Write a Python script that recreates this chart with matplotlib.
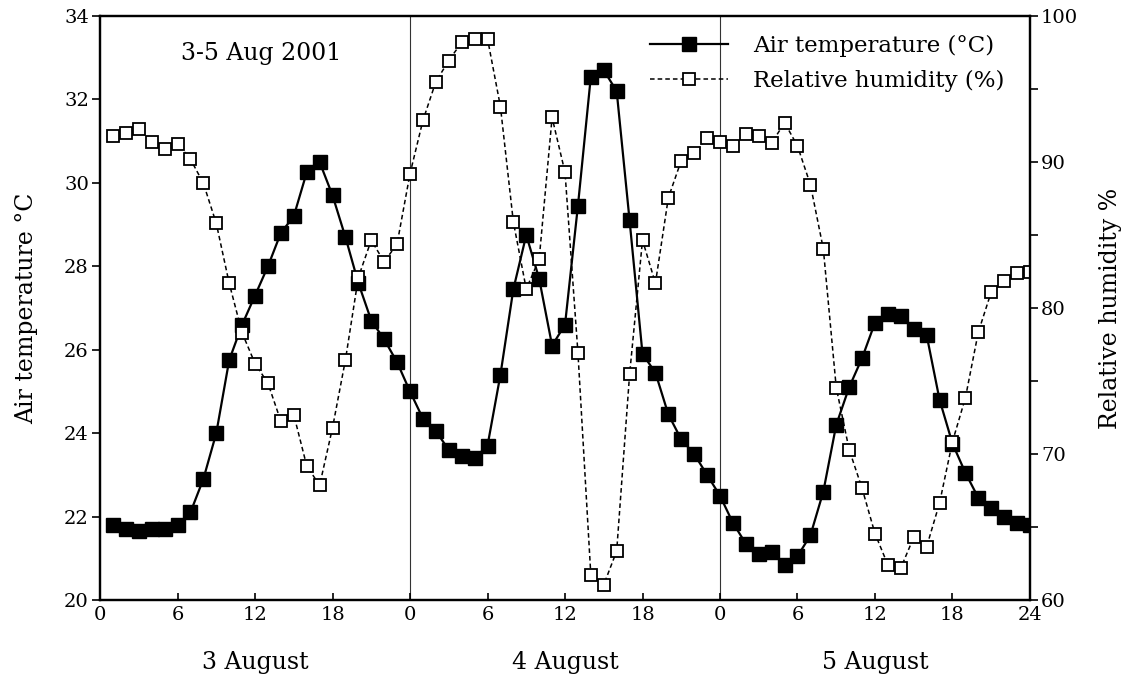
import matplotlib.pyplot as plt
from matplotlib.ticker import MultipleLocator

# hourly readings, 3-5 Aug 2001 (hour 1 .. 72)
hours = list(range(1, 73))

air_temp = [21.8, 21.7, 21.65, 21.7, 21.7, 21.8, 22.1, 22.9, 24.0, 25.75, 26.6, 27.3,
            28.0, 28.8, 29.2, 30.25, 30.5, 29.7, 28.7, 27.6, 26.7, 26.25, 25.7, 25.0,
            24.35, 24.05, 23.6, 23.45, 23.4, 23.7, 25.4, 27.45, 28.75, 27.7, 26.1, 26.6,
            29.45, 32.55, 32.7, 32.2, 29.1, 25.9, 25.45, 24.45, 23.85, 23.5, 23.0, 22.5,
            21.85, 21.35, 21.1, 21.15, 20.85, 21.05, 21.55, 22.6, 24.2, 25.1, 25.8, 26.65,
            26.85, 26.8, 26.5, 26.35, 24.8, 23.75, 23.05, 22.45, 22.2, 22.0, 21.85, 21.8]

rel_humidity = [91.8, 92.0, 92.25, 91.4, 90.9, 91.25, 90.2, 88.55, 85.8, 81.7, 78.3, 76.2,
                74.85, 72.25, 72.7, 69.2, 67.85, 71.8, 76.45, 82.1, 84.65, 83.15, 84.4, 89.2,
                92.85, 95.5, 96.95, 98.2, 98.45, 98.45, 93.8, 85.9, 81.3, 83.35, 93.05, 89.3,
                76.95, 61.7, 61.05, 63.35, 75.45, 84.65, 81.7, 87.55, 90.1, 90.6, 91.65, 91.4,
                91.1, 91.95, 91.8, 91.3, 92.7, 91.1, 88.45, 84.05, 74.55, 70.3, 67.65, 64.55,
                62.4, 62.2, 64.3, 63.65, 66.65, 70.85, 73.85, 78.35, 81.1, 81.85, 82.4, 82.5]

tick_pos = list(range(0, 73, 6))
tick_lab = ['0', '6', '12', '18', '0', '6', '12', '18', '0', '6', '12', '18', '24']
days = ['3 August', '4 August', '5 August']
day_mid = [12, 36, 60]

plt.rcParams['font.family'] = ['DejaVu Serif']

fig = plt.figure(figsize=(11.29, 6.79), dpi=100)
ax = fig.add_axes([0.0886, 0.1163, 0.8237, 0.8601])
ax2 = ax.twinx()

l1, = ax.plot(hours, air_temp, color='black', lw=1.6, marker='s', ms=9.5,
              mfc='black', mec='black', label='Air temperature (°C)', zorder=3)
l2, = ax2.plot(hours, rel_humidity, color='black', lw=1.1, ls=(0, (3, 2)), marker='s',
               ms=8.5, mfc='white', mec='black', mew=1.3, label='Relative humidity (%)')

# day boundaries
for d in [24, 48]:
    ax.axvline(d, color='#333333', lw=0.8, zorder=1)

ax.set_xlim(0, 72)
ax.set_ylim(20, 34)
ax2.set_ylim(60, 100)
ax.set_xticks(tick_pos)
ax.set_xticklabels(tick_lab)
ax.yaxis.set_major_locator(MultipleLocator(2))
ax2.yaxis.set_major_locator(MultipleLocator(10))
ax2.yaxis.set_minor_locator(MultipleLocator(5))

ax.tick_params(axis='x', direction='in', length=5, width=1.2, labelsize=14, pad=4)
ax.tick_params(axis='y', direction='out', length=6, width=1.2, labelsize=14, pad=2)
ax2.tick_params(axis='y', which='major', direction='out', length=6, width=1.2,
                labelsize=14, pad=2)
ax2.tick_params(axis='y', which='minor', direction='out', length=6, width=1.2)

for a in (ax, ax2):
    for s in a.spines.values():
        s.set_linewidth(1.6)

ax.set_ylabel('Air temperature °C', fontsize=17, labelpad=19)
ax2.set_ylabel('Relative humidity %', fontsize=17, labelpad=15)

ax.text(12.5, 33.1, '3-5 Aug 2001', fontsize=17, ha='center', va='center')

for m, d in zip(day_mid, days):
    ax.text(m, 18.5, d, fontsize=17, ha='center', va='center')

leg = ax.legend(handles=[l1, l2], loc='upper left', frameon=False, fontsize=16.5,
                handlelength=3.4, handletextpad=1.1, labelspacing=0.56,
                borderpad=0, borderaxespad=0, bbox_to_anchor=(0.591, 0.968))

fig.savefig('out.png', dpi=100)
